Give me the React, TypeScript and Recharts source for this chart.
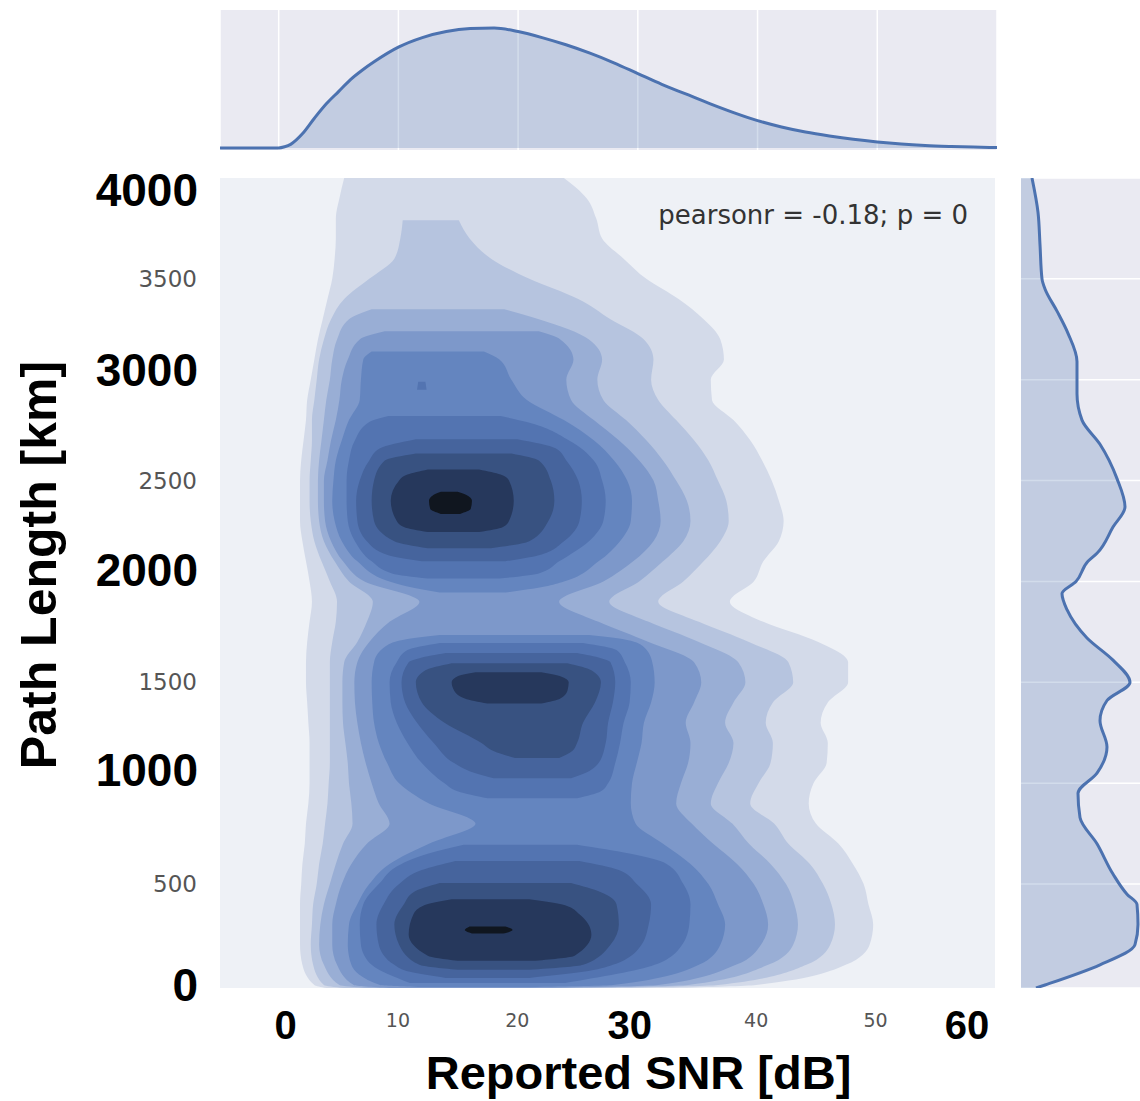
import React from 'react';
import { AreaChart, ComposedChart, Area, XAxis, YAxis, CartesianGrid, Label, Customized } from 'recharts';

type Band = [number, number, number]; // [path length km, SNR low, SNR high]

// top strip: density of reported SNR
const snrGrid = [-4.9, -2, 0, 0.5, 1, 2, 3, 4, 5, 6, 7, 8, 10, 12, 14, 16, 18, 20, 22, 24, 26, 28, 30, 32, 34, 36, 38, 40, 42, 44, 46, 48, 50, 52, 54, 56, 58, 60];
const snrDensity = [0, 0, 0, 0.01, 0.03, 0.12, 0.25, 0.37, 0.47, 0.57, 0.65, 0.72, 0.84, 0.92, 0.97, 0.995, 1.0, 0.97, 0.92, 0.86, 0.79, 0.71, 0.62, 0.53, 0.45, 0.37, 0.295, 0.228, 0.175, 0.133, 0.1, 0.072, 0.05, 0.033, 0.021, 0.013, 0.007, 0.004];

// right strip: density of path length
const pathGrid = [-15, 0, 100, 200, 300, 400, 450, 550, 700, 830, 950, 1050, 1180, 1310, 1410, 1500, 1610, 1720, 1860, 1940, 2000, 2100, 2140, 2270, 2370, 2510, 2680, 2800, 2930, 3090, 3230, 3340, 3450, 3500, 3670, 3830, 4000];
const pathDensity = [15, 24, 79, 114, 117, 116, 106, 92, 76, 59, 57, 76, 86, 79, 86, 109, 92, 66, 46, 41, 55, 67, 76, 92, 104, 96, 79, 61, 56, 56, 47, 36, 24, 21, 19, 17, 11];

const snrTicks = [0, 10, 20, 30, 40, 50, 60];
const snrGridTicks = [0, 10, 20, 30, 40, 50];
const boldSnrTicks = [0, 30, 60];
const pathTicks = [0, 500, 1000, 1500, 2000, 2500, 3000, 3500, 4000];
const pathGridTicks = [500, 1000, 1500, 2000, 2500, 3000, 3500];
const boldPathTicks = [0, 1000, 2000, 3000, 4000];

// KDE contour bands, outermost level first
const level1: Band[] = [
  [-15, 4.0, 33.0], [0, 3.0, 40.0], [100, 2.0, 47.5], [200, 1.8, 49.5], [300, 1.8, 49.8],
  [400, 1.8, 49.4], [500, 1.9, 49.0], [600, 2.0, 48.1], [700, 2.2, 46.9], [800, 2.3, 45.0],
  [900, 2.5, 44.4], [1000, 2.6, 44.8], [1100, 2.6, 45.9], [1200, 2.6, 46.0], [1300, 2.5, 45.4],
  [1400, 2.4, 46.0], [1500, 2.3, 47.7], [1600, 2.3, 47.7], [1700, 2.4, 45.2], [1800, 2.6, 40.6],
  [1900, 2.8, 37.8], [2000, 2.6, 39.8], [2100, 2.3, 40.6], [2200, 2.0, 41.9], [2300, 1.8, 42.3],
  [2400, 1.8, 41.9], [2500, 1.8, 41.3], [2600, 1.9, 40.5], [2700, 2.1, 39.5], [2800, 2.3, 38.1],
  [2900, 2.4, 36.3], [3000, 2.7, 36.2], [3100, 3.0, 37.3], [3200, 3.3, 37.0], [3300, 3.7, 35.6],
  [3400, 4.1, 33.5], [3500, 4.5, 30.8], [3600, 4.7, 28.9], [3700, 4.8, 27.1], [3800, 4.8, 26.6],
  [3900, 5.1, 25.8], [4000, 5.5, 23.9],
];
const level2: Band[] = [
  [-15, 5.5, 28.0], [0, 3.8, 36.8], [100, 2.9, 44.2], [200, 2.7, 46.2], [300, 2.8, 46.6],
  [400, 2.9, 46.3], [500, 3.2, 45.6], [600, 3.4, 44.5], [700, 3.7, 42.7], [800, 3.9, 41.5],
  [900, 4.1, 39.5], [1000, 4.2, 40.2], [1100, 4.3, 41.2], [1200, 4.3, 41.4], [1300, 4.3, 40.8],
  [1400, 4.3, 41.4], [1500, 4.3, 43.1], [1600, 4.3, 42.7], [1700, 4.5, 39.4], [1800, 4.8, 35.2],
  [1900, 4.9, 31.8], [2000, 4.3, 33.9], [2100, 3.6, 35.6], [2200, 3.0, 37.0], [2300, 2.7, 37.7],
  [2400, 2.6, 37.5], [2500, 2.6, 36.8], [2600, 2.7, 36.0], [2700, 2.8, 34.8], [2800, 2.8, 33.3],
  [2900, 3.0, 31.8], [3000, 3.2, 31.2], [3100, 3.4, 31.4], [3200, 3.8, 30.6], [3300, 4.4, 27.8],
  [3400, 5.5, 25.1], [3500, 7.6, 21.0], [3600, 9.7, 17.8], [3700, 10.2, 16.0], [3790, 10.4, 15.1],
];
const level3: Band[] = [
  [-15, 7.6, 24.0], [0, 5.1, 34.3], [100, 3.8, 41.0], [200, 3.4, 43.1], [300, 3.5, 43.5],
  [400, 3.8, 43.2], [500, 4.3, 42.5], [600, 4.8, 41.2], [700, 5.4, 39.4], [800, 6.2, 38.0],
  [900, 6.1, 36.2], [1000, 5.9, 36.8], [1100, 5.8, 37.7], [1200, 5.6, 38.1], [1300, 5.4, 37.4],
  [1400, 5.35, 38.1], [1500, 5.35, 39.1], [1600, 5.5, 38.5], [1700, 6.6, 35.2], [1800, 7.4, 31.0],
  [1900, 7.9, 27.7], [2000, 5.9, 30.2], [2100, 4.7, 32.2], [2200, 3.8, 33.9], [2300, 3.4, 34.5],
  [2400, 3.3, 34.2], [2500, 3.3, 33.3], [2600, 3.4, 32.2], [2700, 3.6, 30.8], [2800, 3.8, 29.1],
  [2900, 4.0, 27.2], [3000, 4.3, 26.7], [3100, 4.5, 27.1], [3200, 4.9, 26.0], [3300, 5.9, 21.8],
  [3350, 7.8, 18.9],
];
const level4: Band[] = [
  [-15, 9.3, 21.0], [0, 6.3, 31.8], [100, 4.9, 38.3], [200, 4.5, 40.4], [300, 4.5, 41.0],
  [400, 4.8, 40.6], [500, 5.3, 39.8], [600, 6.1, 38.4], [700, 7.4, 36.4], [800, 9.3, 34.6],
  [900, 8.4, 33.3], [1000, 7.8, 33.7], [1100, 7.3, 34.3], [1200, 6.9, 34.5], [1300, 6.6, 34.1],
  [1400, 6.4, 34.8], [1500, 6.35, 35.4], [1600, 6.6, 34.8], [1700, 7.6, 31.0], [1800, 9.3, 26.8],
  [1900, 11.8, 23.5], [2000, 7.2, 27.2], [2100, 5.4, 29.7], [2200, 4.4, 31.4], [2300, 3.9, 32.0],
  [2400, 3.8, 31.8], [2500, 3.8, 31.4], [2600, 4.1, 30.2], [2700, 4.4, 28.5], [2800, 4.8, 26.4],
  [2900, 5.1, 24.5], [3000, 5.3, 24.1], [3100, 5.8, 24.7], [3200, 6.8, 23.6], [3240, 8.9, 21.8],
];
const level5Upper: Band[] = [
  [1945, 13.5, 19.0], [1975, 10.8, 22.3], [2000, 9.3, 23.9], [2100, 6.6, 26.8], [2200, 5.3, 28.6],
  [2300, 4.7, 29.5], [2400, 4.5, 29.6], [2500, 4.6, 29.2], [2600, 4.8, 28.1], [2700, 5.3, 26.4],
  [2800, 5.9, 23.9], [2900, 6.8, 20.8], [3000, 6.9, 19.5], [3100, 7.1, 18.5], [3140, 7.8, 17.2],
];
const level5Lower: Band[] = [
  [-10, 12.0, 21.0], [0, 8.5, 28.0], [100, 6.1, 35.2], [200, 5.8, 37.0], [300, 5.9, 37.4],
  [400, 6.6, 36.8], [500, 7.6, 36.0], [600, 9.3, 34.5], [700, 12.6, 32.2], [800, 16.5, 29.9],
  [900, 12.6, 29.5], [1000, 10.1, 29.6], [1100, 9.1, 30.0], [1200, 8.4, 30.4], [1300, 8.0, 30.6],
  [1400, 7.85, 31.2], [1500, 7.8, 31.5], [1600, 8.0, 31.3], [1680, 9.0, 30.5], [1715, 10.8, 28.8],
  [1735, 13.5, 26.0],
];
const level6Upper: Band[] = [
  [2015, 12.5, 18.5], [2040, 9.5, 21.8], [2100, 7.8, 23.5], [2200, 6.4, 26.0], [2300, 5.8, 27.2],
  [2400, 5.7, 27.4], [2500, 5.7, 27.1], [2600, 5.9, 26.4], [2700, 6.4, 24.3], [2790, 7.6, 20.8],
  [2820, 9.2, 18.6],
];
const level6Speck: Band[] = [[2950, 11.6, 12.4], [2990, 11.7, 12.3]];
const level6Middle: Band[] = [
  [925, 17.5, 25.0], [960, 15.0, 27.0], [1000, 13.9, 27.6], [1100, 12.0, 28.2], [1200, 10.8, 28.6],
  [1300, 9.9, 28.9], [1400, 9.4, 29.4], [1500, 9.3, 29.5], [1600, 9.9, 29.0], [1660, 10.8, 28.3],
  [1695, 13.5, 25.5],
];
const level6Lower: Band[] = [
  [10, 11.0, 24.0], [100, 7.8, 31.5], [200, 6.9, 33.8], [300, 6.8, 34.4], [400, 7.1, 34.5],
  [500, 8.4, 33.9], [600, 10.3, 32.5], [650, 12.5, 29.5], [695, 15.5, 25.0],
];
const level7Upper: Band[] = [
  [2100, 12.0, 19.0], [2130, 9.2, 21.8], [2200, 7.4, 23.9], [2300, 6.6, 25.2], [2400, 6.5, 25.4],
  [2500, 6.8, 25.1], [2600, 7.6, 24.1], [2660, 8.5, 23.2], [2705, 11.5, 20.0],
];
const level7Middle: Band[] = [
  [1025, 18.0, 24.5], [1060, 16.0, 26.0], [1100, 14.7, 26.8], [1200, 13.0, 27.4], [1300, 11.6, 27.6],
  [1400, 10.6, 28.0], [1500, 10.3, 28.2], [1600, 10.9, 27.8], [1620, 11.8, 27.0], [1645, 14.0, 25.0],
];
const level7Lower: Band[] = [
  [35, 14.0, 21.0], [65, 11.0, 25.5], [100, 9.7, 28.0], [200, 8.4, 30.4], [300, 8.2, 31.0],
  [400, 8.8, 31.2], [500, 10.1, 30.0], [570, 12.0, 28.5], [615, 14.8, 25.2],
];
const level8Upper: Band[] = [
  [2165, 12.5, 17.8], [2200, 9.7, 21.0], [2300, 8.0, 22.6], [2400, 7.8, 23.1], [2500, 8.0, 22.8],
  [2600, 8.9, 21.8], [2635, 11.5, 19.5],
];
const level8Middle: Band[] = [
  [1125, 19.8, 23.5], [1160, 18.0, 24.6], [1200, 17.0, 25.0], [1300, 13.9, 25.5], [1400, 12.0, 26.5],
  [1500, 11.5, 27.0], [1560, 12.3, 26.2], [1595, 14.5, 24.2],
];
const level8Lower: Band[] = [
  [75, 15.0, 21.0], [100, 11.8, 25.5], [200, 10.1, 27.8], [300, 9.7, 28.5], [400, 10.5, 28.3],
  [460, 11.3, 27.0], [505, 13.5, 24.5],
];
const level9Upper: Band[] = [
  [2245, 12.5, 16.8], [2270, 10.5, 18.8], [2300, 9.9, 19.3], [2400, 9.4, 19.7], [2500, 10.1, 19.3],
  [2530, 10.8, 18.6], [2555, 12.5, 16.8],
];
const level9Middle: Band[] = [
  [1395, 17.5, 22.0], [1420, 15.6, 23.6], [1460, 14.7, 24.2], [1500, 14.5, 24.3], [1530, 15.0, 23.6],
  [1550, 16.5, 22.0],
];
const level9Lower: Band[] = [
  [120, 15.0, 21.5], [145, 12.5, 24.8], [250, 10.9, 26.2], [350, 11.3, 25.2], [395, 12.2, 24.0],
  [425, 14.5, 21.0],
];
const level10Upper: Band[] = [[2335, 13.6, 15.2], [2360, 12.7, 16.1], [2400, 12.6, 16.2], [2430, 13.0, 15.7], [2445, 13.6, 15.0]];
const level10Lower: Band[] = [[255, 16.2, 18.8], [272, 15.6, 19.6], [290, 16.0, 19.0]];

const levelColors = ['#d3dae9', '#b6c4df', '#99aed5', '#7d98ca', '#6485bf', '#5374b1', '#46649d', '#385281', '#26385c', '#10161f'];

const contourPieces: { band: Band[]; level: number }[] = [
  { band: level1, level: 0 },
  { band: level2, level: 1 },
  { band: level3, level: 2 },
  { band: level4, level: 3 },
  { band: level5Upper, level: 4 },
  { band: level5Lower, level: 4 },
  { band: level6Upper, level: 5 },
  { band: level6Speck, level: 5 },
  { band: level6Middle, level: 5 },
  { band: level6Lower, level: 5 },
  { band: level7Upper, level: 6 },
  { band: level7Middle, level: 6 },
  { band: level7Lower, level: 6 },
  { band: level8Upper, level: 7 },
  { band: level8Middle, level: 7 },
  { band: level8Lower, level: 7 },
  { band: level9Upper, level: 8 },
  { band: level9Middle, level: 8 },
  { band: level9Lower, level: 8 },
  { band: level10Upper, level: 9 },
  { band: level10Lower, level: 9 },
];

const snrRows = snrGrid.map((s, i) => ({ s, d: snrDensity[i] }));
const pathRows = pathGrid.map((L, i) => ({ L, d: pathDensity[i] }));
const bandRange = (r: { lo: number; hi: number }) => [r.lo, r.hi];

const BOLD = '"Liberation Sans", Arial, Helvetica, sans-serif';
const PLAIN = '"DejaVu Sans", Verdana, sans-serif';
const BLUE = '#4c72b0';

function SnrTick({ x, y, payload }: any) {
  const v = payload.value;
  if (boldSnrTicks.includes(v)) {
    const nudge = v === 0 ? 7 : v === 30 ? -7 : -28;
    return (
      <text x={x + nudge} y={y + 51} textAnchor="middle" fontFamily={BOLD} fontWeight={700} fontSize={40} fill="#000">
        {v}
      </text>
    );
  }
  return (
    <text x={x} y={y + 39} textAnchor="middle" fontFamily={PLAIN} fontSize={19} fill="#555">
      {v}
    </text>
  );
}

function PathTick({ x, y, payload }: any) {
  const v = payload.value;
  if (boldPathTicks.includes(v)) {
    const nudge: Record<number, number> = { 0: 16, 1000: 3, 2000: 5, 3000: 6, 4000: 28 };
    return (
      <text x={x - 22} y={y + nudge[v]} textAnchor="end" fontFamily={BOLD} fontWeight={700} fontSize={46} fill="#000">
        {v}
      </text>
    );
  }
  return (
    <text x={x - 23} y={y + 8} textAnchor="end" fontFamily={PLAIN} fontSize={23} fill="#555">
      {v}
    </text>
  );
}

function XTitle({ viewBox }: any) {
  const cx = viewBox.x + viewBox.width / 2 + 31;
  return (
    <text x={cx} y={viewBox.y + 101} textAnchor="middle" fontFamily={BOLD} fontWeight={700} fontSize={47} fill="#000">
      Reported SNR [dB]
    </text>
  );
}

function YTitle({ viewBox }: any) {
  const x = viewBox.x + 56;
  const y = viewBox.y + viewBox.height / 2 - 18;
  return (
    <text x={x} y={y} transform={`rotate(-90, ${x}, ${y})`} textAnchor="middle" fontFamily={BOLD} fontWeight={700} fontSize={50} fill="#000">
      Path Length [km]
    </text>
  );
}

function PearsonNote() {
  return (
    <text x={968} y={224} textAnchor="end" fontFamily={PLAIN} fontSize={26} fill="#333">
      pearsonr = -0.18; p = 0
    </text>
  );
}

export default function App() {
  return (
    <div style={{ position: 'absolute', left: 0, top: 0, width: 1140, height: 1101, background: '#fff', overflow: 'hidden' }}>
      <div style={{ position: 'absolute', left: 0, top: 0 }}>
        <ComposedChart layout="vertical" width={1000} height={1101} margin={{ top: 178, right: 5, bottom: 3, left: 0 }}>
          <CartesianGrid horizontal={false} vertical={false} fill="#eef1f6" />
          <XAxis
            type="number"
            domain={[-4.9, 60]}
            allowDataOverflow
            ticks={snrTicks}
            interval={0}
            height={110}
            tickSize={0}
            tickMargin={0}
            tickLine={false}
            axisLine={false}
            tick={SnrTick}
          >
            <Label content={XTitle} />
          </XAxis>
          <YAxis
            type="number"
            dataKey="L"
            domain={[-15, 4000]}
            allowDataOverflow
            reversed
            ticks={pathTicks}
            interval={0}
            width={220}
            tickSize={0}
            tickMargin={0}
            tickLine={false}
            axisLine={false}
            tick={PathTick}
          >
            <Label content={YTitle} />
          </YAxis>
          {contourPieces.map((piece, i) => (
            <Area
              key={i}
              data={piece.band.map(([L, lo, hi]) => ({ L, lo, hi }))}
              dataKey={bandRange}
              type="monotone"
              stroke="none"
              fill={levelColors[piece.level]}
              fillOpacity={1}
              dot={false}
              activeDot={false}
              isAnimationActive={false}
            />
          ))}
          <Customized component={PearsonNote} />
        </ComposedChart>
      </div>

      <div style={{ position: 'absolute', left: 220, top: 10 }}>
        <AreaChart width={777} height={140} data={snrRows} margin={{ top: 0, right: 0, bottom: 0, left: 0 }}>
          <CartesianGrid horizontal={false} stroke="#ffffff" strokeWidth={1.5} fill="#eaeaf2" />
          <XAxis type="number" dataKey="s" domain={[-4.9, 60]} ticks={snrGridTicks} hide />
          <YAxis type="number" domain={[-0.017, 1.15]} hide />
          <Area dataKey="d" type="monotone" stroke={BLUE} strokeWidth={3} fill={BLUE} fillOpacity={0.25} dot={false} activeDot={false} isAnimationActive={false} />
        </AreaChart>
      </div>

      <div style={{ position: 'absolute', left: 1021, top: 178 }}>
        <ComposedChart layout="vertical" width={140} height={810} data={pathRows} margin={{ top: 0, right: 0, bottom: 0, left: 0 }}>
          <CartesianGrid vertical={false} stroke="#ffffff" strokeWidth={1.5} fill="#eaeaf2" />
          <XAxis type="number" domain={[0, 140]} hide />
          <YAxis type="number" dataKey="L" domain={[-15, 4000]} reversed ticks={pathGridTicks} hide />
          <Area dataKey="d" type="monotone" stroke={BLUE} strokeWidth={3} fill={BLUE} fillOpacity={0.25} dot={false} activeDot={false} isAnimationActive={false} />
        </ComposedChart>
      </div>
    </div>
  );
}
